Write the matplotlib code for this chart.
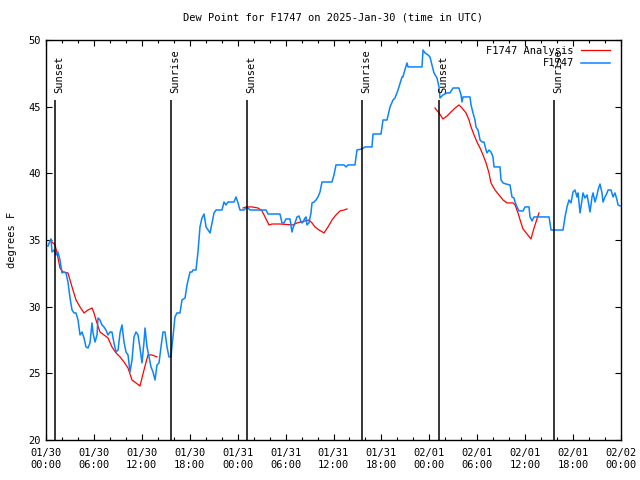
import numpy as np
import pandas as pd
import matplotlib
matplotlib.use('Agg')
import matplotlib.pyplot as plt
import matplotlib.dates as mdates

start = pd.Timestamp('2025-01-30 00:00')

# F1747 observations: hours after start, dew point (F)
obs_hours = [0.25, 0.50, 0.63, 0.75, 1.00, 1.25, 1.50, 1.75, 2.00, 2.25, 2.50, 2.75, 3.01, 3.26, 3.51, 3.76,
             4.01, 4.26, 4.51, 4.76, 5.01, 5.26, 5.51, 5.76, 5.89, 6.14, 6.39, 6.51, 6.76, 7.01, 7.26, 7.51,
             7.76, 8.01, 8.26, 8.51, 8.77, 9.02, 9.27, 9.52, 9.77, 10.02, 10.27, 10.52, 10.77, 11.02, 11.27,
             11.52, 11.77, 12.02, 12.27, 12.40, 12.65, 12.90, 13.15, 13.40, 13.65, 13.90, 14.15, 14.40, 14.65,
             14.90, 15.15, 15.40, 15.65, 15.78, 15.90, 16.15, 16.40, 16.78, 17.03, 17.41, 17.66, 18.03, 18.28,
             18.41, 18.78, 19.03, 19.28, 19.53, 19.79, 20.04, 20.29, 20.54, 20.79, 21.04, 21.29, 22.04, 22.29,
             22.54, 22.79, 23.54, 23.79, 24.04, 24.29, 24.79, 25.17, 25.54, 27.55, 27.80, 29.30, 29.55, 29.80,
             30.05, 30.55, 30.80, 30.93, 31.18, 31.43, 31.68, 31.93, 32.06, 32.18, 32.43, 32.56, 32.68, 32.93,
             33.06, 33.18, 33.31, 33.56, 33.81, 34.06, 34.31, 34.56, 34.81, 35.81, 36.06, 36.31, 37.32, 37.57,
             37.82, 38.69, 38.94, 39.57, 39.95, 40.82, 40.95, 41.95, 42.20, 42.70, 43.08, 43.45, 43.70, 44.08,
             44.58, 44.70, 44.83, 45.20, 45.33, 47.08, 47.21, 47.46, 47.83, 48.08, 48.58, 48.96, 49.21, 49.33,
             49.71, 50.21, 50.59, 50.96, 51.71, 51.97, 52.09, 52.22, 53.09, 53.22, 53.47, 53.72, 53.84, 54.10,
             54.35, 54.60, 54.85, 55.10, 55.22, 55.47, 55.72, 55.97, 56.10, 56.85, 56.98, 57.23, 57.60, 58.10,
             58.35, 58.60, 58.73, 58.98, 59.23, 59.73, 59.98, 60.48, 60.61, 60.86, 61.11, 61.36, 62.99, 63.24,
             64.74, 64.99, 65.24, 65.49, 65.74, 65.99, 66.24, 66.49, 66.62, 66.87, 67.12, 67.24, 67.49, 67.75,
             67.87, 68.12, 68.37, 68.50, 68.75, 69.00, 69.12, 69.37, 69.62, 69.75, 70.00, 70.25, 70.38, 70.75,
             71.00, 71.25, 71.50, 71.63, 71.88]
obs_dewpt = [34.55, 34.93, 35.08, 34.10, 34.25, 33.88, 34.10, 33.50, 32.53, 32.60, 32.53, 31.85, 30.65, 29.75,
             29.53, 29.53, 29.00, 27.88, 28.10, 27.65, 26.98, 26.90, 27.28, 28.78, 28.03, 27.35, 27.88, 29.15,
             29.00, 28.63, 28.48, 28.25, 27.88, 28.10, 28.10, 27.28, 26.60, 26.75, 28.03, 28.63, 27.35, 26.60,
             26.38, 25.10, 26.00, 27.73, 28.10, 27.88, 26.90, 25.78, 27.35, 28.40, 26.98, 26.23, 25.48, 25.10,
             24.50, 25.63, 25.78, 26.98, 28.10, 28.10, 26.98, 26.23, 26.23, 27.10, 27.73, 29.23, 29.53, 29.53,
             30.50, 30.65, 31.63, 32.60, 32.60, 32.75, 32.75, 34.10, 35.98, 36.65, 36.95, 35.98, 35.75, 35.53,
             36.28, 37.03, 37.25, 37.25, 37.85, 37.63, 37.85, 37.85, 38.23, 37.78, 37.25, 37.25, 37.48, 37.25,
             37.25, 36.95, 36.95, 36.28, 36.28, 36.58, 36.58, 35.60, 35.90, 36.28, 36.73, 36.80, 36.35, 36.28,
             36.35, 36.65, 36.73, 36.13, 36.28, 36.65, 37.03, 37.78, 37.85, 38.00, 38.23, 38.60, 39.35, 39.35,
             39.35, 39.88, 40.63, 40.63, 40.48, 40.63, 40.63, 41.75, 41.83, 41.98, 41.98, 42.95, 42.95, 44.00,
             44.00, 44.98, 45.50, 45.65, 46.25, 47.23, 47.23, 47.53, 48.28, 47.98, 47.98, 49.25, 49.03, 48.88,
             48.73, 47.53, 47.15, 46.48, 45.65, 45.88, 46.03, 46.03, 46.40, 46.40, 45.88, 45.35, 45.73, 45.73,
             45.13, 44.53, 44.00, 43.48, 43.25, 42.50, 42.35, 42.35, 41.75, 41.53, 41.75, 41.60, 41.23, 40.48,
             40.48, 39.50, 39.28, 39.20, 39.13, 38.23, 38.15, 37.85, 37.48, 37.18, 37.18, 37.48, 37.48, 36.73,
             36.43, 36.73, 36.73, 36.73, 35.75, 35.75, 36.73, 37.48, 38.00, 37.78, 38.60, 38.75, 38.23, 38.53,
             37.03, 38.00, 38.53, 38.15, 38.38, 38.00, 37.10, 38.23, 38.53, 37.85, 38.38, 38.75, 39.20, 38.53,
             37.85, 38.23, 38.53, 38.75, 38.75, 38.23, 38.53, 38.00, 37.63, 37.55]

# F1747 Analysis (NaN separates the three runs)
ana_hours = [0.75, 1.13, 1.38, 1.75, 2.13, 2.75, 3.01, 3.26, 3.76, 4.26, 4.76, 5.26, 5.76, 6.01, 6.26, 6.76,
             7.26, 7.76, 8.26, 8.77, 9.27, 9.77, 10.27, 10.77, 11.27, 11.77, 12.27, 12.77, 13.27, 13.90, 14.0,
             24.67, 25.04, 25.80, 26.55, 27.05, 27.55, 27.92, 28.30, 29.30, 30.93, 31.43, 31.93, 32.43, 32.93,
             33.31, 33.68, 34.19, 34.81, 35.31, 35.81, 36.31, 36.82, 37.32, 37.69, 38.0,
             48.71, 49.21, 49.71, 50.21, 50.71, 51.22, 51.72, 52.09, 52.59, 52.97, 53.22, 53.60, 53.97, 54.35,
             54.72, 55.10, 55.47, 55.72, 56.22, 56.72, 57.23, 57.73, 58.48, 58.73, 59.10, 59.48, 59.73, 60.23,
             60.73, 61.11, 61.48, 61.73]
ana_dewpt = [34.85, 34.63, 34.03, 32.90, 32.60, 32.53, 32.00, 31.48, 30.50, 29.98, 29.53, 29.75, 29.90, 29.53,
             29.00, 28.10, 27.88, 27.65, 26.98, 26.53, 26.23, 25.85, 25.40, 24.50, 24.28, 24.05, 25.25, 26.38,
             26.38, 26.23, np.nan,
             37.40, 37.48, 37.48, 37.40, 37.18, 36.58, 36.13, 36.20, 36.20, 36.13, 36.28, 36.35, 36.43, 36.50,
             36.28, 35.98, 35.75, 35.53, 35.98, 36.50, 36.88, 37.18, 37.25, 37.33, np.nan,
             44.90, 44.53, 44.08, 44.30, 44.60, 44.90, 45.13, 44.90, 44.53, 44.00, 43.48, 42.88, 42.35, 41.90,
             41.38, 40.78, 40.03, 39.28, 38.75, 38.38, 38.00, 37.78, 37.78, 37.63, 37.03, 36.28, 35.83, 35.45,
             35.08, 35.90, 36.58, 37.03]

sun_hours = [1.13, 15.65, 25.17, 39.57, 49.21, 63.61]
sun_labels = ['Sunset', 'Sunrise', 'Sunset', 'Sunrise', 'Sunset', 'Sunrise']

obs_t = start + pd.to_timedelta(obs_hours, unit='h')
ana_t = start + pd.to_timedelta(ana_hours, unit='h')
sun_t = start + pd.to_timedelta(sun_hours, unit='h')

plt.rcParams['font.family'] = ['DejaVu Sans Mono']
plt.rcParams['font.size'] = 7

fig = plt.figure(figsize=(6.4, 4.8), dpi=100)
ax = fig.add_axes([46 / 640, 40 / 480, 575 / 640, 400 / 480])

ax.plot(ana_t, ana_dewpt, color='#ff0000', lw=0.9, label='F1747 Analysis')
ax.plot(obs_t, obs_dewpt, color='#0a84ff', lw=1.1, label='F1747')

ax.vlines(sun_t, 20, 45.5, color='black', lw=1.1)
for t, lab in zip(sun_t, sun_labels):
    ax.text(mdates.date2num(t) + 0.02, 46.0, lab, rotation=90, ha='center', va='bottom', fontsize=7.5)

ax.set_xlim(start, start + pd.Timedelta(hours=72))
ax.set_ylim(20, 50)
ax.set_yticks([20, 25, 30, 35, 40, 45, 50])
ax.xaxis.set_major_locator(mdates.HourLocator(byhour=[0, 6, 12, 18]))
ax.xaxis.set_minor_locator(mdates.HourLocator(byhour=range(0, 24, 2)))
ax.xaxis.set_major_formatter(mdates.DateFormatter('%m/%d\n%H:%M'))

ax.tick_params(which='both', direction='in', top=True, right=True, width=0.8, labelsize=7.5)
ax.tick_params(which='major', length=4, pad=4)
ax.tick_params(which='minor', length=2.5)
ax.tick_params(axis='x', pad=6)
for sp in ax.spines.values():
    sp.set_linewidth(1.0)

ax.set_ylabel('degrees F', fontsize=7.5, labelpad=8)
fig.suptitle('Dew Point for F1747 on 2025-Jan-30 (time in UTC)', x=333 / 640, y=1 - 13 / 480,
             va='top', fontsize=7.5)

ax.legend(loc='upper right', bbox_to_anchor=(1 - 9 / 575, 1 - 4 / 400), frameon=False, markerfirst=False,
          fontsize=7.5, handlelength=2.8, handletextpad=0.65, labelspacing=0.2, borderaxespad=0,
          borderpad=0.2)

fig.savefig('out.png', dpi=100)
